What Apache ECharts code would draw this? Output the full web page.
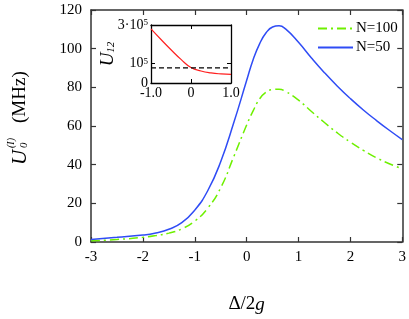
<!DOCTYPE html>
<html><head><meta charset="utf-8">
<script src="https://cdn.jsdelivr.net/npm/echarts@6/dist/echarts.min.js"></script>
<style>html,body{margin:0;padding:0;background:#fff}#c{width:409px;height:319px}</style>
</head><body><div id="c"></div>
<script>
var xVals = [-3, -2.5, -2, -1.75, -1.5, -1.25, -1, -0.75, -0.5, -0.25, 0, 0.125, 0.25, 0.375, 0.5, 0.625, 0.75, 1, 1.25, 1.5, 1.75, 2, 2.25, 2.5, 2.75, 3];
var n50 = [1.3, 2.4, 3.6, 4.7, 6.6, 10.0, 16.5, 26.5, 41.5, 61.5, 83.5, 94.3, 102.5, 108.2, 111.2, 111.8, 110.2, 103.3, 95.2, 87.6, 80.6, 74.2, 68.3, 62.9, 57.8, 53];
var n100 = [0.6, 1.3, 2.4, 3.3, 4.6, 6.8, 10.8, 17.5, 28, 44, 60.5, 67.8, 74, 77.5, 78.8, 79, 77.9, 73.4, 67.5, 61.8, 56.4, 51.6, 47.4, 43.6, 40.5, 37.9];
var insetX = [-1, -0.75, -0.5, -0.25, 0, 0.25, 0.5, 0.75, 1];
var insetU12 = [2.8e5, 2.25e5, 1.72e5, 1.22e5, 0.8e5, 0.62e5, 0.52e5, 0.47e5, 0.45e5];
var insetRefX = [-1, 1];
var insetRefY = [0.78e5, 0.78e5];
var insetYLabels = [0, 1e5, 3e5];

function pairs(xs, ys){ return xs.map(function(x,i){return [x, ys[i]];}); }
var serif = '"Liberation Serif", "Times New Roman", serif';
var axisCol = '#333';

var chart = echarts.init(document.getElementById('c'));
chart.setOption({
  animation: false,
  backgroundColor: '#fff',
  textStyle: {fontFamily: serif, color: '#000'},
  grid: [
    {left: 91, top: 10, width: 314, height: 235, containLabel: false},
    {left: 151, top: 25, width: 80, height: 58, containLabel: false}
  ],
  legend: {
    orient: 'vertical', left: 317, top: 21, padding: 0, itemWidth: 35, itemHeight: 14, itemGap: 4,
    itemStyle: {opacity: 0},
    textStyle: {fontFamily: serif, fontSize: 15, color: '#000', padding: [0,0,0,-2]},
    data: [{name: 'N=100'}, {name: 'N=50'}]
  },
  xAxis: [
    {gridIndex: 0, type: 'value', min: -3, max: 3, interval: 1, position: 'bottom',
     axisLine: {onZero: false, lineStyle: {color: axisCol, width: 1.5}}, splitLine: {show: false},
     axisTick: {inside: true, length: 5, lineStyle: {color: axisCol, width: 1.2}},
     axisLabel: {fontFamily: serif, fontSize: 15, color: '#000', margin: 8},
     name: 'Δ/2{i|g}', nameLocation: 'middle', nameGap: 53,
     nameTextStyle: {fontFamily: serif, fontSize: 19, color: '#000', rich: {i: {fontFamily: serif, fontSize: 19, fontStyle: 'italic', color: '#000'}}}},
    {gridIndex: 0, type: 'value', min: -3, max: 3, interval: 1, position: 'top',
     axisLine: {onZero: false, lineStyle: {color: axisCol, width: 1.5}}, splitLine: {show: false},
     axisTick: {inside: true, length: 5, lineStyle: {color: axisCol, width: 1.2}},
     axisLabel: {show: false}},
    {gridIndex: 1, type: 'value', min: -1, max: 1, interval: 1, position: 'bottom',
     axisLine: {onZero: false, lineStyle: {color: '#000', width: 1.3}}, splitLine: {show: false},
     axisTick: {inside: true, length: 4, lineStyle: {color: '#000'}},
     axisLabel: {fontFamily: serif, fontSize: 14, color: '#000', margin: 3,
       formatter: function(v){ return v === 0 ? '0' : v.toFixed(1); }}},
    {gridIndex: 1, type: 'value', min: -1, max: 1, interval: 1, position: 'top',
     axisLine: {onZero: false, lineStyle: {color: '#000', width: 1.3}}, splitLine: {show: false},
     axisTick: {inside: true, length: 4, lineStyle: {color: '#000'}},
     axisLabel: {show: false}}
  ],
  yAxis: [
    {gridIndex: 0, type: 'value', min: 0, max: 120, interval: 20, position: 'left',
     axisLine: {show: true, onZero: false, lineStyle: {color: axisCol, width: 1.5}}, splitLine: {show: false},
     axisTick: {show: true, inside: true, length: 5, lineStyle: {color: axisCol, width: 1.2}},
     axisLabel: {fontFamily: serif, fontSize: 15, color: '#000', margin: 9}},
    {gridIndex: 0, type: 'value', min: 0, max: 120, interval: 20, position: 'right',
     axisLine: {show: true, onZero: false, lineStyle: {color: axisCol, width: 1.5}}, splitLine: {show: false},
     axisTick: {show: true, inside: true, length: 5, lineStyle: {color: axisCol, width: 1.2}},
     axisLabel: {show: false}},
    {gridIndex: 1, type: 'value', min: 0, max: 3e5, position: 'left',
     axisLine: {show: true, onZero: false, lineStyle: {color: '#000', width: 1.3}}, splitLine: {show: false},
     axisTick: {show: true, inside: true, length: 4, customValues: [1e5], lineStyle: {color: '#000'}},
     axisLabel: {fontFamily: serif, fontSize: 14, color: '#000', margin: 3, customValues: insetYLabels,
       formatter: function(v){ if (v === 0) return '0'; if (v === 1e5) return '10{s|5}'; return '3·10{s|5}'; },
       rich: {s: {fontFamily: serif, fontSize: 9, color: '#000', verticalAlign: 'top', lineHeight: 10}}},
     name: '{u|U}{s|12}', nameLocation: 'middle', nameGap: 34, nameRotate: 90, nameMoveOverlap: false,
     nameTextStyle: {rich: {u: {fontFamily: serif, fontSize: 19, fontStyle: 'italic', color: '#000'},
                            s: {fontFamily: serif, fontSize: 11, fontStyle: 'italic', color: '#000', verticalAlign: 'bottom', padding: [8,0,0,0]}}}},
    {gridIndex: 1, type: 'value', min: 0, max: 3e5, position: 'right',
     axisLine: {show: true, onZero: false, lineStyle: {color: '#000', width: 1.3}}, splitLine: {show: false},
     axisTick: {show: true, inside: true, length: 4, customValues: [1e5], lineStyle: {color: '#000'}},
     axisLabel: {show: false}}
  ],
  series: [
    {name: 'N=100', type: 'line', xAxisIndex: 0, yAxisIndex: 0, data: pairs(xVals, n100), smooth: 0.5,
     symbol: 'none', color: '#6ef000', lineStyle: {color: '#6ef000', width: 1.5, type: [9, 4, 2, 4]}},
    {name: 'N=50', type: 'line', xAxisIndex: 0, yAxisIndex: 0, data: pairs(xVals, n50), smooth: 0.5,
     symbol: 'none', color: '#2f4cf5', lineStyle: {color: '#2f4cf5', width: 1.5}},
    {name: 'U12', type: 'line', xAxisIndex: 2, yAxisIndex: 2, data: pairs(insetX, insetU12), smooth: 0.5,
     symbol: 'none', color: '#ff2020', lineStyle: {color: '#ff2020', width: 1.2}},
    {name: 'ref', type: 'line', xAxisIndex: 2, yAxisIndex: 2, data: pairs(insetRefX, insetRefY),
     symbol: 'none', color: '#000', lineStyle: {color: '#000', width: 1.2, type: [5, 3]}}
  ],
  graphic: [
    {type: 'group', x: 20, y: 165, rotation: Math.PI / 2, children: [
      {type: 'text', x: 0, y: 0, style: {text: 'U', font: 'italic 21px ' + serif, fill: '#000', align: 'left', verticalAlign: 'middle'}},
      {type: 'text', x: 17, y: 4, style: {text: '0', font: 'italic 11px ' + serif, fill: '#000', align: 'left', verticalAlign: 'middle'}},
      {type: 'text', x: 17, y: -9, style: {text: '(I)', font: 'italic 10px ' + serif, fill: '#000', align: 'left', verticalAlign: 'middle'}},
      {type: 'text', x: 42, y: 0, style: {text: '(MHz)', font: '19px ' + serif, fill: '#000', align: 'left', verticalAlign: 'middle'}}
    ]}
  ]
});
</script></body></html>
